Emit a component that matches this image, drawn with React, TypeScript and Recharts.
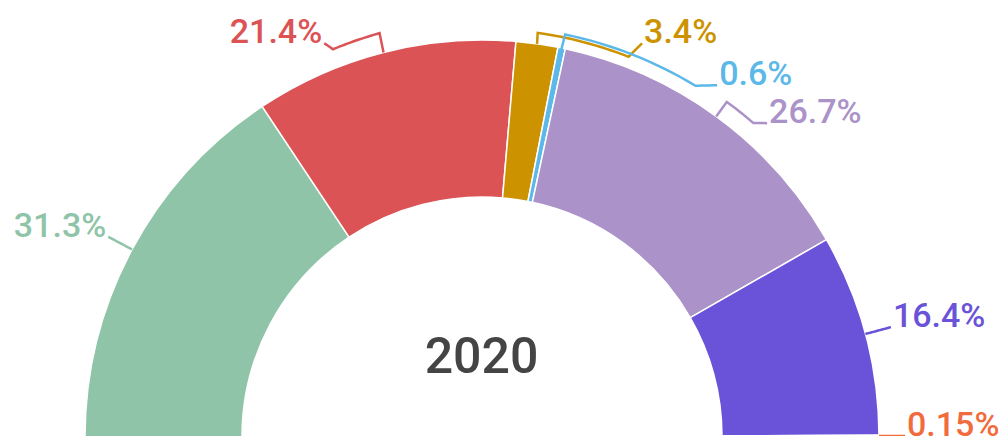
import React from "react";
import { PieChart, Pie, Cell } from "recharts";

const categories = ["A", "B", "C", "D", "E", "F", "G"];
const shares = [31.3, 21.4, 3.4, 0.6, 26.7, 16.4, 0.15];
const colors = ["#8fc4a8", "#dc5356", "#cc9200", "#5cb8e8", "#ab92c8", "#6a52d9", "#f26b3c"];
const centerTitle = "2020";

// label leader routes: [angle offset from slice mid (deg), radial offset beyond outer radius (px)]
const labelRoutes: number[][][] = [
  [[0, 0], [0, 27]],
  [[0, 0], [-0.13, 19.6], [6.66, 18.4], [7.47, 27.2]],
  [[0, 0], [0.12, 11], [-13.12, 10.5], [-14.16, 28]],
  [[0, -2], [-0.1, 14], [-19.73, 14], [-22.2, 26]],
  [[0, 0], [0, 18], [-4.7, 18], [-6.1, 27]],
  [[0, 0], [0, 26.4]],
  [[0, 0], [0, 26]],
];
const labelAnchors = ["end", "end", "start", "start", "start", "start", "start"];

const data = categories.map((c, i) => ({ name: c, value: shares[i] }));

const RAD = Math.PI / 180;

function renderLabel(props: any) {
  const { cx, cy, midAngle, outerRadius, index, value } = props;
  const route = labelRoutes[index];
  const pts: [number, number][] = [];
  for (let s = 0; s < route.length - 1; s++) {
    const [a0, r0] = route[s];
    const [a1, r1] = route[s + 1];
    const steps = 16;
    for (let k = 0; k <= steps; k++) {
      if (s > 0 && k === 0) continue;
      const t = k / steps;
      const ang = (midAngle + a0 + (a1 - a0) * t) * RAD;
      const r = outerRadius + r0 + (r1 - r0) * t;
      pts.push([cx + r * Math.cos(ang), cy - r * Math.sin(ang)]);
    }
  }
  const end = pts[pts.length - 1];
  const anchor = labelAnchors[index];
  const color = colors[index];
  return (
    <g key={"lbl" + index}>
      <polyline
        points={pts.map((p) => p.join(",")).join(" ")}
        fill="none"
        stroke={color}
        strokeWidth={2.5}
      />
      <text
        x={end[0] + (anchor === "end" ? -2 : 2)}
        y={end[1]}
        textAnchor={anchor}
        fill={color}
        fontSize={34}
        fontWeight={500}
        fontFamily="Roboto"
      >
        {value}%
      </text>
    </g>
  );
}

export default function App() {
  return (
    <div style={{ position: "absolute", left: 0, top: 0, width: 1002, height: 436, background: "#fff" }}>
      <PieChart width={1002} height={436} margin={{ top: 0, right: 0, bottom: 0, left: 0 }}>
        <Pie
          data={data}
          dataKey="value"
          cx={482}
          cy={437}
          startAngle={180}
          endAngle={0}
          innerRadius={240}
          outerRadius={397}
          stroke="#fff"
          strokeWidth={1.5}
          label={renderLabel}
          labelLine={false}
          isAnimationActive={false}
        >
          {data.map((d, i) => (
            <Cell key={d.name} fill={colors[i]} />
          ))}
        </Pie>
      </PieChart>
      <svg width={1002} height={436} style={{ position: "absolute", left: 0, top: 0, pointerEvents: "none" }}>
        <text x={481.5} y={373} textAnchor="middle" fontSize={50} fontWeight={500} fontFamily="Roboto" fill="#444">
          {centerTitle}
        </text>
      </svg>
    </div>
  );
}
